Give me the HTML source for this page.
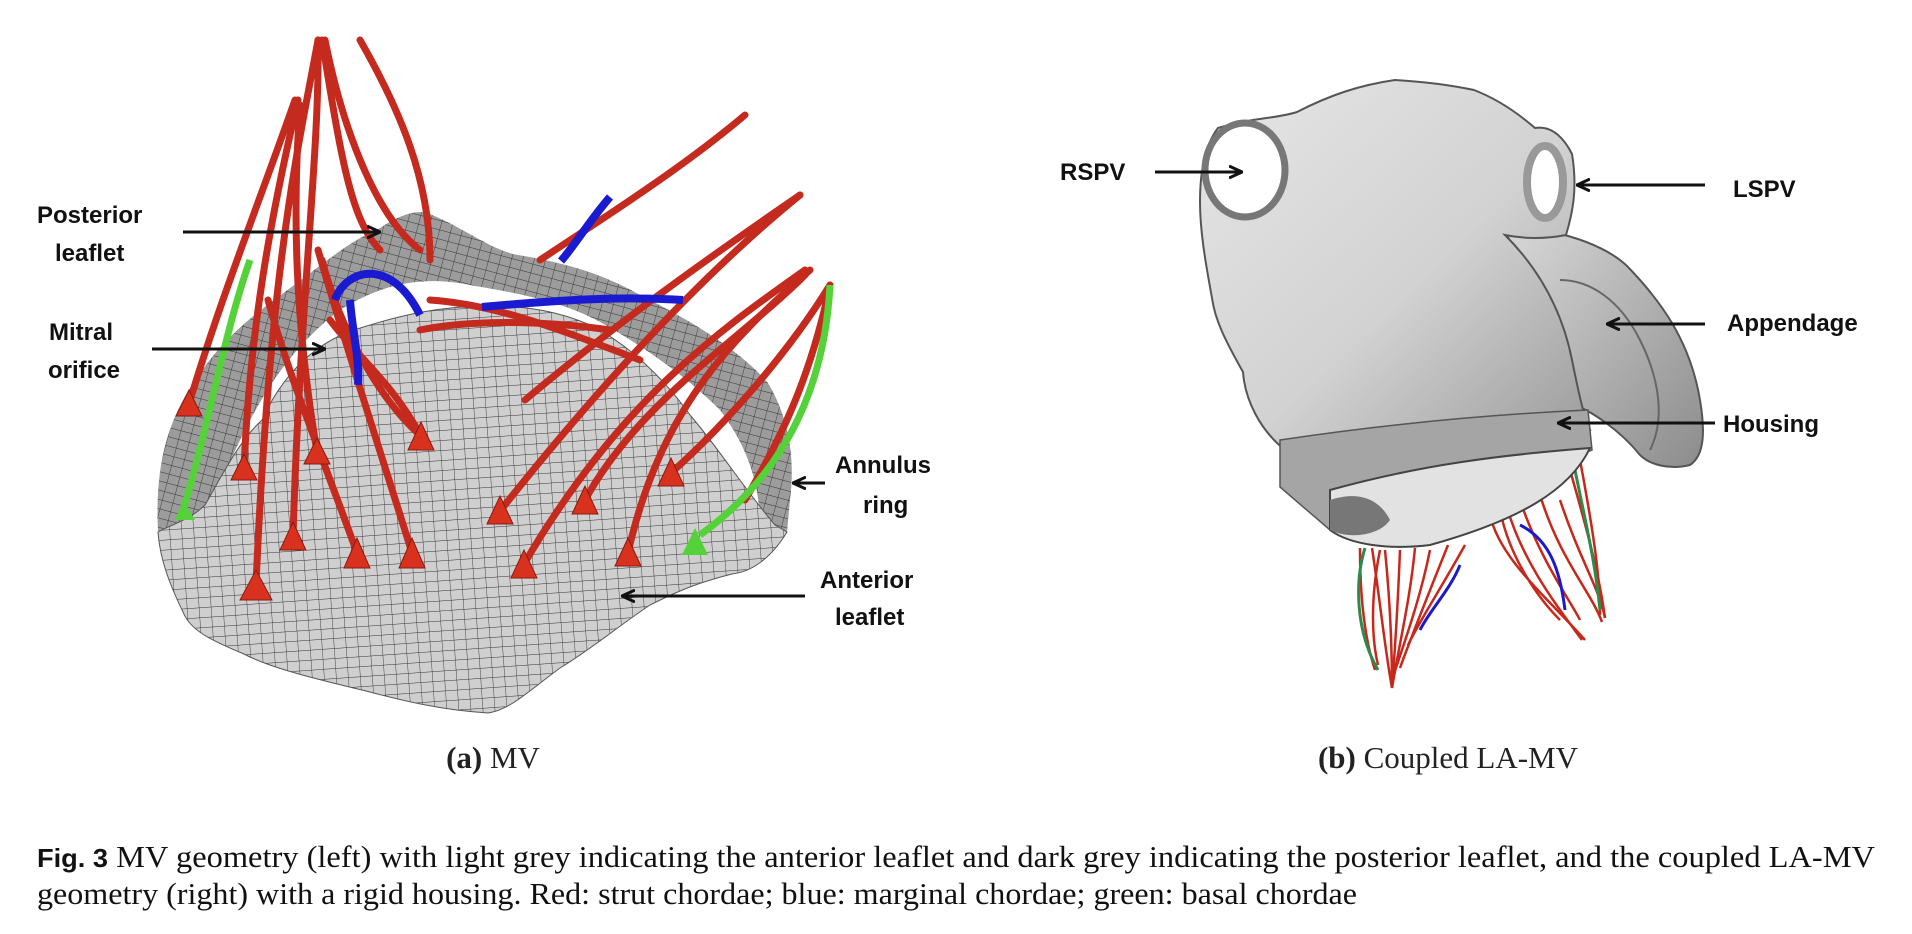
<!DOCTYPE html>
<html><head><meta charset="utf-8">
<style>
html,body{margin:0;padding:0;background:#fff;}
svg{display:block;}
.lbl{font-family:"Liberation Sans",sans-serif;font-weight:bold;font-size:24px;fill:#111;}
.sub{font-family:"Liberation Serif",serif;font-size:31px;fill:#222;}
.cap{font-family:"Liberation Serif",serif;font-size:31px;fill:#111;}
</style></head>
<body>
<svg width="1912" height="934" viewBox="0 0 1912 934" xmlns="http://www.w3.org/2000/svg">
<defs>
<pattern id="mesh" width="12" height="10" patternUnits="userSpaceOnUse" patternTransform="rotate(-4)">
<rect width="12" height="10" fill="#cfcfcf"/>
<path d="M0 0H12M0 0V10" stroke="#333" stroke-width="0.9"/>
</pattern>
<pattern id="mesh2" width="11" height="9" patternUnits="userSpaceOnUse" patternTransform="rotate(15)">
<rect width="11" height="9" fill="#9c9c9c"/>
<path d="M0 0H11M0 0V9" stroke="#333" stroke-width="0.9"/>
</pattern>
<linearGradient id="la" x1="0" y1="0" x2="1" y2="1">
<stop offset="0" stop-color="#e6e6e6"/><stop offset="0.55" stop-color="#d2d2d2"/><stop offset="1" stop-color="#9a9a9a"/>
</linearGradient>
<linearGradient id="app" x1="0" y1="0" x2="1" y2="1">
<stop offset="0" stop-color="#d8d8d8"/><stop offset="1" stop-color="#8c8c8c"/>
</linearGradient>
<marker id="arr" markerUnits="userSpaceOnUse" markerWidth="14" markerHeight="14" refX="13" refY="7" orient="auto"><path d="M0 1L13 7L0 13" fill="none" stroke="#111" stroke-width="3"/></marker>
</defs>

<!-- Panel a -->
<g>
<path d="M158 532 C155 470 165 420 201 372 C230 330 262 309 305 277 C330 258 354 239 380 228 C400 215 415 210 427 213 C460 225 490 250 518 255 C560 262 600 272 640 295 C690 320 740 350 768 383 C790 420 795 460 790 500 L787 532 L760 540 C762 490 750 450 720 410 C690 380 650 350 600 322 C560 300 510 292 470 285 C420 275 380 285 340 310 C300 340 270 380 245 430 C225 470 215 500 200 525 Z" fill="url(#mesh2)"/>
<path d="M158 532 C170 525 190 520 205 505 C225 470 240 440 262 420 C280 380 310 345 354 330 C400 315 440 306 488 306 C530 306 560 312 590 325 C630 345 665 380 690 415 C720 450 745 490 775 525 L787 532 C770 560 750 572 732 574 C700 582 680 590 650 605 C620 625 590 650 560 668 C530 690 510 710 488 713 C440 710 400 700 366 691 C320 680 270 668 244 654 C210 640 190 630 183 612 C170 585 160 560 158 532 Z" fill="url(#mesh)" stroke="#555" stroke-width="1"/>
<g fill="none" stroke="#c42a1e" stroke-width="7" stroke-linecap="round">
<path d="M318 40 C300 140 270 260 256 585"/>
<path d="M318 40 C320 150 300 300 293 537"/>
<path d="M322 40 C340 150 350 220 380 250"/>
<path d="M325 40 C345 140 380 220 420 250"/>
<path d="M360 40 C400 110 430 180 430 260"/>
<path d="M295 100 C260 200 220 300 189 404"/>
<path d="M298 100 C270 220 250 330 244 468"/>
<path d="M300 105 C290 240 300 350 317 452"/>
<path d="M268 300 C290 380 320 450 357 553"/>
<path d="M318 250 C350 360 380 450 412 553"/>
<path d="M322 260 C340 330 380 400 421 436"/>
<path d="M330 320 C360 360 390 380 421 436"/>
<path d="M745 115 C680 170 600 220 540 260"/>
<path d="M800 195 C720 250 620 320 525 400"/>
<path d="M800 195 C720 260 620 360 500 511"/>
<path d="M805 270 C720 330 620 400 524 564"/>
<path d="M810 270 C730 340 660 410 628 553"/>
<path d="M805 275 C740 340 640 400 585 500"/>
<path d="M830 285 C790 350 730 420 671 473"/>
<path d="M830 285 C810 380 780 440 745 500"/>
<path d="M420 330 C470 320 540 320 610 330"/>
<path d="M430 300 C500 305 560 330 640 360"/>
</g>
<g fill="#d8321f" stroke="#8a1a10" stroke-width="1">
<path d="M256 570 L240 600 L272 600 Z"/><path d="M293 522 L280 550 L306 550 Z"/>
<path d="M357 538 L344 568 L370 568 Z"/><path d="M412 538 L399 568 L425 568 Z"/>
<path d="M421 422 L408 450 L434 450 Z"/><path d="M500 496 L487 524 L513 524 Z"/>
<path d="M524 550 L511 578 L537 578 Z"/><path d="M628 538 L615 566 L641 566 Z"/>
<path d="M585 486 L572 514 L598 514 Z"/><path d="M671 458 L658 486 L684 486 Z"/>
<path d="M244 454 L231 480 L257 480 Z"/><path d="M317 438 L304 464 L330 464 Z"/>
<path d="M189 390 L176 416 L202 416 Z"/>
</g>
<g fill="none" stroke="#1a1ad0" stroke-width="8">
<path d="M335 300 C345 270 390 255 420 315"/>
<path d="M350 300 C352 330 360 360 358 385"/>
<path d="M482 307 C560 300 620 296 683 300"/>
<path d="M610 197 C590 220 575 245 561 261"/>
</g>
<g fill="none" stroke="#55d13a" stroke-width="7">
<path d="M250 260 C225 330 210 420 183 511"/>
<path d="M830 285 C825 380 790 470 700 535"/>
</g>
<path d="M183 500 L175 520 L195 520 Z" fill="#55d13a"/>
<path d="M695 528 L682 555 L708 555 Z" fill="#55d13a"/>
</g>
<g>
<text class="lbl" x="37" y="223">Posterior</text>
<text class="lbl" x="55" y="261">leaflet</text>
<line x1="183" y1="232" x2="380" y2="232" stroke="#111" stroke-width="3" marker-end="url(#arr)"/>
<text class="lbl" x="49" y="340">Mitral</text>
<text class="lbl" x="48" y="378">orifice</text>
<line x1="152" y1="349" x2="325" y2="349" stroke="#111" stroke-width="3" marker-end="url(#arr)"/>
<text class="lbl" x="835" y="473">Annulus</text>
<text class="lbl" x="863" y="513">ring</text>
<line x1="825" y1="483" x2="793" y2="483" stroke="#111" stroke-width="3" marker-end="url(#arr)"/>
<text class="lbl" x="820" y="588">Anterior</text>
<text class="lbl" x="835" y="625">leaflet</text>
<line x1="805" y1="596" x2="622" y2="596" stroke="#111" stroke-width="3" marker-end="url(#arr)"/>
</g>
<text class="sub" x="493" y="768" text-anchor="middle"><tspan font-weight="bold">(a)</tspan> MV</text>

<!-- Panel b -->
<g>
<g fill="none" stroke="#c7281c" stroke-width="2.5">
<path d="M1360 548 C1360 600 1365 640 1375 670"/><path d="M1372 548 C1380 600 1385 650 1392 688"/>
<path d="M1385 550 C1390 600 1392 640 1392 688"/><path d="M1400 550 C1398 600 1395 650 1392 688"/>
<path d="M1415 548 C1410 600 1400 640 1392 688"/><path d="M1430 550 C1420 600 1405 640 1392 680"/>
<path d="M1448 545 C1430 590 1410 640 1400 668"/><path d="M1465 545 C1440 590 1420 620 1408 645"/>
<path d="M1380 550 C1370 600 1372 640 1378 665"/>
<path d="M1490 515 C1500 560 1550 600 1585 640"/><path d="M1505 500 C1520 560 1560 610 1582 640"/>
<path d="M1520 500 C1540 560 1570 600 1580 620"/><path d="M1540 495 C1560 560 1590 590 1602 622"/>
<path d="M1560 500 C1580 560 1600 590 1605 618"/><path d="M1570 470 C1590 540 1600 580 1605 618"/>
<path d="M1580 460 C1595 540 1600 580 1600 615"/><path d="M1500 510 C1510 560 1540 600 1560 620"/>
</g>
<path d="M1520 525 C1550 540 1560 570 1565 610" stroke="#1a1acc" stroke-width="3" fill="none"/>
<path d="M1460 565 C1450 590 1430 610 1420 630" stroke="#1a1acc" stroke-width="3" fill="none"/>
<path d="M1365 548 C1355 580 1355 630 1378 670" stroke="#2d8a4a" stroke-width="3" fill="none"/>
<path d="M1575 470 C1585 520 1595 560 1600 610" stroke="#2d8a4a" stroke-width="3" fill="none"/>
<path d="M1505 229 C1540 225 1600 240 1627 266 C1660 300 1690 340 1700 400 C1705 430 1705 455 1690 465 C1670 470 1650 465 1640 455 C1620 430 1590 410 1572 404 Z" fill="url(#app)" stroke="#555" stroke-width="2"/>
<path d="M1560 280 C1590 280 1620 300 1640 340 C1660 380 1665 420 1650 450" fill="none" stroke="#666" stroke-width="2"/>
<path d="M1218 128 C1250 118 1280 118 1297 112 C1330 95 1360 85 1395 80 C1430 82 1455 86 1474 90 C1500 100 1520 115 1535 128 C1553 125 1565 140 1572 154 C1578 190 1572 215 1566 235 C1540 240 1520 238 1505 235 C1530 260 1560 300 1572 360 C1580 400 1585 420 1590 430 L1285 450 C1260 430 1245 400 1243 372 C1225 340 1215 320 1212 298 C1205 260 1200 230 1200 202 C1200 170 1205 145 1218 128 Z" fill="url(#la)" stroke="#555" stroke-width="2"/>
<ellipse cx="1245" cy="170" rx="40" ry="47" fill="#fff" stroke="#777" stroke-width="7"/>
<ellipse cx="1545" cy="182" rx="18" ry="36" fill="#fff" stroke="#999" stroke-width="8"/>
<path d="M1280 440 C1380 425 1480 415 1588 410 L1592 450 C1540 470 1420 480 1330 530 L1280 487 Z" fill="#a5a5a5" stroke="#555" stroke-width="1.5"/>
<path d="M1330 490 C1420 465 1500 455 1590 448 C1570 490 1520 520 1430 545 C1390 550 1350 545 1330 530 Z" fill="#e2e2e2" stroke="#444" stroke-width="2"/>
<path d="M1330 500 C1360 490 1380 500 1390 520 C1380 535 1350 540 1330 530 Z" fill="#777"/>
</g>
<g>
<text class="lbl" x="1060" y="180">RSPV</text>
<line x1="1155" y1="172" x2="1242" y2="172" stroke="#111" stroke-width="3" marker-end="url(#arr)"/>
<text class="lbl" x="1733" y="197">LSPV</text>
<line x1="1705" y1="185" x2="1577" y2="185" stroke="#111" stroke-width="3" marker-end="url(#arr)"/>
<text class="lbl" x="1727" y="331">Appendage</text>
<line x1="1705" y1="324" x2="1607" y2="324" stroke="#111" stroke-width="3" marker-end="url(#arr)"/>
<text class="lbl" x="1723" y="432">Housing</text>
<line x1="1715" y1="423" x2="1558" y2="423" stroke="#111" stroke-width="3" marker-end="url(#arr)"/>
</g>
<text class="sub" x="1448" y="768" text-anchor="middle"><tspan font-weight="bold">(b)</tspan> Coupled LA-MV</text>

<!-- Caption -->
<g>
<text class="cap" x="37" y="867" textLength="1838" lengthAdjust="spacingAndGlyphs"><tspan font-family="Liberation Sans, sans-serif" font-weight="bold" font-size="26">Fig. 3</tspan>  MV geometry (left) with light grey indicating the anterior leaflet and dark grey indicating the posterior leaflet, and the coupled LA-MV</text>
<text class="cap" x="37" y="904" textLength="1320" lengthAdjust="spacingAndGlyphs">geometry (right) with a rigid housing. Red: strut chordae; blue: marginal chordae; green: basal chordae</text>
</g>
</svg>
</body></html>
